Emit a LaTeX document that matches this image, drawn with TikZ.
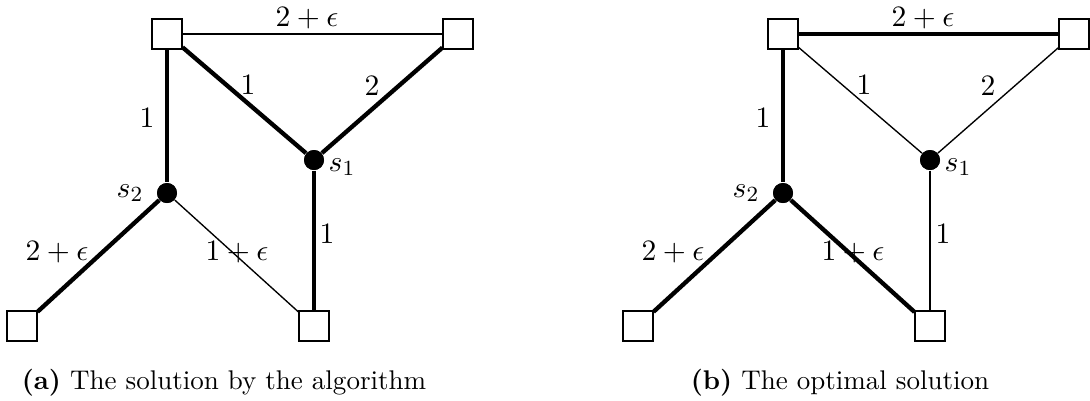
\documentclass[tikz,border=0pt]{standalone}
\begin{document}
\begin{tikzpicture}[x=0.37pt,y=-0.37pt,
  term/.style={draw,line width=0.5pt,fill=white,minimum size=11pt,inner sep=0pt},
  stein/.style={circle,fill=black,minimum size=7.4pt,inner sep=0pt},
  thin edge/.style={line width=0.5pt},
  thick edge/.style={line width=1.6pt},
  lab/.style={inner sep=0pt,font=\fontsize{11}{13}\selectfont}]
\useasboundingbox (0,0) rectangle (1090,400);
\foreach \o/\n in {0/a,616/b}{
  \begin{scope}[xshift=\o*0.37pt]
  \node[term] (\n tl) at (167,34) {};
  \node[term] (\n tr) at (458,34) {};
  \node[term] (\n bl) at (22,326) {};
  \node[term] (\n br) at (314,326) {};
  \node[stein] (\n s1) at (314,160) {};
  \node[stein] (\n s2) at (167,193) {};
  \node[lab] (\n l1) at (307,18) {$2+\epsilon$};
  \node[lab] (\n l2) at (248,85) {$1$};
  \node[lab] (\n l3) at (372,86) {$2$};
  \node[lab] (\n l4) at (147,118) {$1$};
  \node[lab] (\n l5) at (342,167) {$s_1$};
  \node[lab] (\n l6) at (130,193) {$s_2$};
  \node[lab] (\n l7) at (57,252) {$2+\epsilon$};
  \node[lab] (\n l9) at (327,234) {$1$};
  \end{scope}
}
% (a)
\draw[thin edge] (atl) -- (atr);
\draw[thick edge] (atl) -- (as1);
\draw[thick edge] (atr) -- (as1);
\draw[thick edge] (atl) -- (as2);
\draw[thick edge] (as1) -- (abr);
\draw[thick edge] (as2) -- (abl);
\draw[thin edge] (as2) -- (abr);
% (b)
\draw[thick edge] (btl) -- (btr);
\draw[thin edge] (btl) -- (bs1);
\draw[thin edge] (btr) -- (bs1);
\draw[thick edge] (btl) -- (bs2);
\draw[thin edge] (bs1) -- (bbr);
\draw[thick edge] (bs2) -- (bbl);
\draw[thick edge] (bs2) -- (bbr);
% redraw nodes on top
\foreach \n in {a,b}{
  \node[term] at (\n tl) {};
  \node[term] at (\n tr) {};
  \node[term] at (\n bl) {};
  \node[term] at (\n br) {};
  \node[stein] at (\n s1) {};
  \node[stein] at (\n s2) {};
}
\node[lab] (al8) at (237,252) {$1+\epsilon$};
\node[lab] (bl8) at (853,252) {$1+\epsilon$};
\node (capa) at (224,383) {\textbf{(a)} The solution by the algorithm};
\node (capb) at (840,383) {\textbf{(b)} The optimal solution};
\end{tikzpicture}
\end{document}
